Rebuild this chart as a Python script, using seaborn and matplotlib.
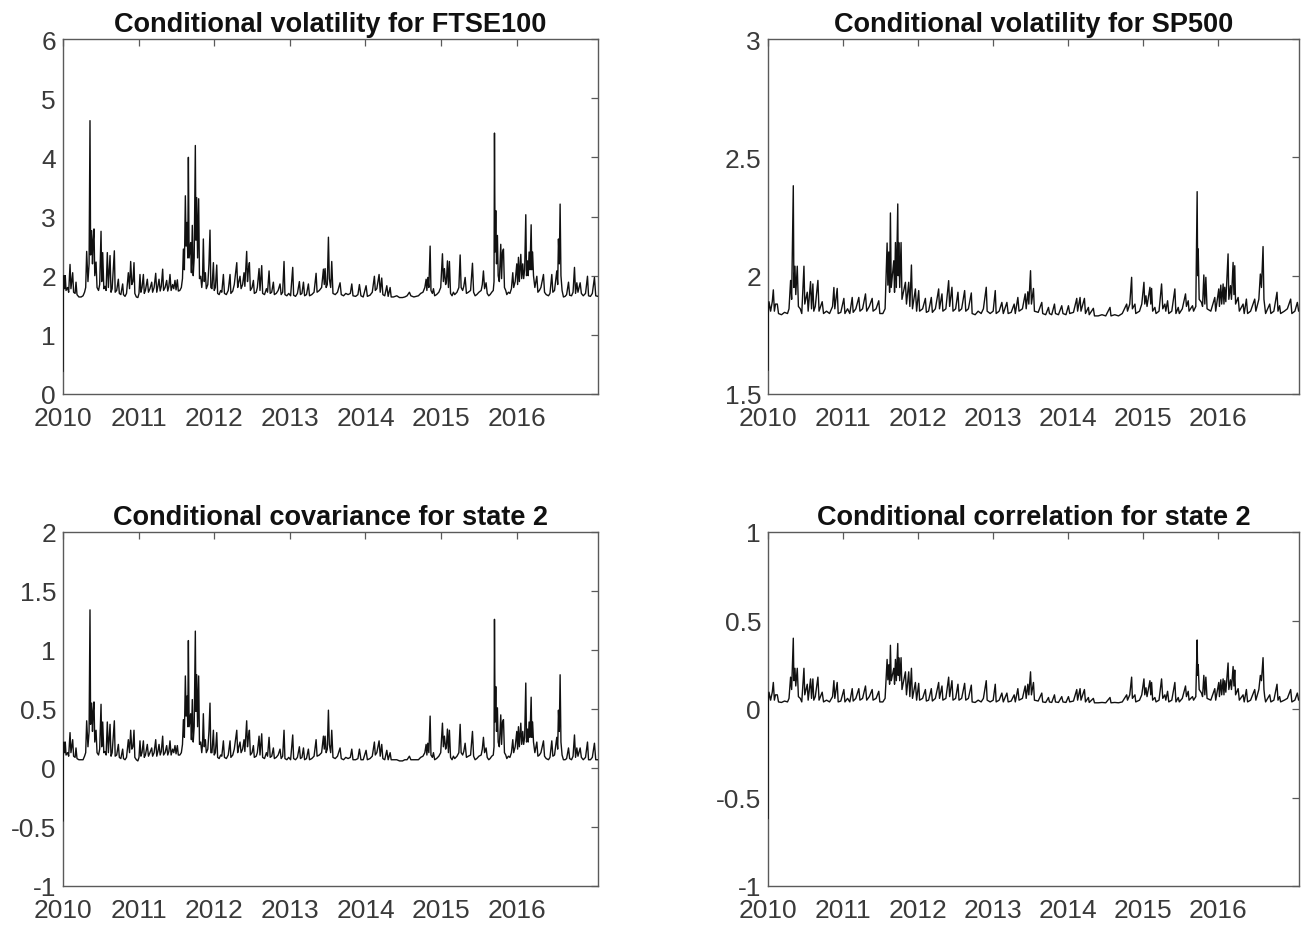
import numpy as np
import pandas as pd
import seaborn as sns
import matplotlib
matplotlib.use("Agg")
import matplotlib.pyplot as plt
from matplotlib.ticker import FuncFormatter, FixedLocator

# ---------------- data ----------------
# vertices of the UK-side series (FTSE100 volatility, state-2 covariance)
uk_dates = [
    2010.000, 2010.004, 2010.012, 2010.022, 2010.030, 2010.040, 2010.060, 2010.075, 2010.093, 2010.105,
    2010.128, 2010.140, 2010.160, 2010.172, 2010.185, 2010.210, 2010.240, 2010.265, 2010.285, 2010.300,
    2010.313, 2010.330, 2010.345, 2010.357, 2010.365, 2010.379, 2010.390, 2010.400, 2010.410, 2010.420,
    2010.437, 2010.450, 2010.470, 2010.485, 2010.503, 2010.512, 2010.525, 2010.540, 2010.555, 2010.570,
    2010.586, 2010.600, 2010.622, 2010.635, 2010.650, 2010.679, 2010.690, 2010.710, 2010.732, 2010.745,
    2010.765, 2010.789, 2010.800, 2010.820, 2010.840, 2010.864, 2010.880, 2010.895, 2010.910, 2010.925,
    2010.939, 2010.950, 2010.970, 2010.990, 2011.005, 2011.018, 2011.030, 2011.045, 2011.063, 2011.075,
    2011.090, 2011.115, 2011.130, 2011.150, 2011.173, 2011.185, 2011.205, 2011.226, 2011.240, 2011.255,
    2011.270, 2011.285, 2011.300, 2011.318, 2011.330, 2011.350, 2011.371, 2011.385, 2011.400, 2011.415,
    2011.430, 2011.450, 2011.465, 2011.481, 2011.495, 2011.512, 2011.525, 2011.545, 2011.565, 2011.580,
    2011.592, 2011.605, 2011.618, 2011.628, 2011.640, 2011.650, 2011.658, 2011.668, 2011.688, 2011.698,
    2011.710, 2011.722, 2011.735, 2011.750, 2011.758, 2011.768, 2011.780, 2011.794, 2011.805, 2011.821,
    2011.835, 2011.845, 2011.856, 2011.868, 2011.883, 2011.895, 2011.915, 2011.930, 2011.944, 2011.955,
    2011.970, 2011.989, 2012.000, 2012.015, 2012.033, 2012.045, 2012.065, 2012.085, 2012.100, 2012.121,
    2012.135, 2012.160, 2012.185, 2012.209, 2012.220, 2012.245, 2012.265, 2012.298, 2012.310, 2012.325,
    2012.341, 2012.355, 2012.375, 2012.394, 2012.405, 2012.429, 2012.440, 2012.452, 2012.465, 2012.478,
    2012.500, 2012.518, 2012.530, 2012.555, 2012.570, 2012.593, 2012.605, 2012.628, 2012.640, 2012.665,
    2012.690, 2012.705, 2012.725, 2012.740, 2012.760, 2012.782, 2012.795, 2012.820, 2012.845, 2012.870,
    2012.885, 2012.905, 2012.923, 2012.935, 2012.960, 2012.985, 2013.010, 2013.038, 2013.050, 2013.075,
    2013.100, 2013.126, 2013.140, 2013.160, 2013.180, 2013.195, 2013.220, 2013.245, 2013.260, 2013.290,
    2013.320, 2013.347, 2013.360, 2013.390, 2013.420, 2013.444, 2013.455, 2013.466, 2013.480, 2013.495,
    2013.510, 2013.522, 2013.540, 2013.554, 2013.570, 2013.600, 2013.630, 2013.664, 2013.680, 2013.710,
    2013.740, 2013.770, 2013.800, 2013.819, 2013.835, 2013.870, 2013.900, 2013.920, 2013.940, 2013.970,
    2014.008, 2014.025, 2014.060, 2014.090, 2014.118, 2014.130, 2014.150, 2014.180, 2014.195, 2014.215,
    2014.230, 2014.255, 2014.282, 2014.300, 2014.326, 2014.340, 2014.370, 2014.414, 2014.450, 2014.490,
    2014.520, 2014.550, 2014.581, 2014.600, 2014.640, 2014.670, 2014.700, 2014.730, 2014.760, 2014.785,
    2014.802, 2014.812, 2014.824, 2014.838, 2014.855, 2014.866, 2014.885, 2014.899, 2014.915, 2014.940,
    2014.970, 2014.995, 2015.018, 2015.030, 2015.044, 2015.060, 2015.070, 2015.084, 2015.097, 2015.110,
    2015.125, 2015.145, 2015.163, 2015.180, 2015.210, 2015.235, 2015.252, 2015.265, 2015.285, 2015.300,
    2015.318, 2015.335, 2015.360, 2015.390, 2015.415, 2015.430, 2015.450, 2015.472, 2015.500, 2015.530,
    2015.545, 2015.560, 2015.575, 2015.595, 2015.610, 2015.630, 2015.648, 2015.670, 2015.690, 2015.700,
    2015.706, 2015.714, 2015.723, 2015.733, 2015.745, 2015.755, 2015.770, 2015.789, 2015.800, 2015.812,
    2015.825, 2015.838, 2015.855, 2015.869, 2015.890, 2015.910, 2015.930, 2015.948, 2015.960, 2015.980,
    2016.001, 2016.012, 2016.023, 2016.035, 2016.054, 2016.066, 2016.080, 2016.092, 2016.105, 2016.120,
    2016.130, 2016.142, 2016.152, 2016.164, 2016.175, 2016.191, 2016.200, 2016.210, 2016.222, 2016.240,
    2016.266, 2016.280, 2016.300, 2016.320, 2016.354, 2016.368, 2016.390, 2016.420, 2016.440, 2016.464,
    2016.478, 2016.500, 2016.530, 2016.542, 2016.552, 2016.563, 2016.574, 2016.585, 2016.600, 2016.618,
    2016.640, 2016.660, 2016.685, 2016.700, 2016.725, 2016.745, 2016.764, 2016.778, 2016.795, 2016.810,
    2016.839, 2016.855, 2016.880, 2016.910, 2016.936, 2016.950, 2016.975, 2017.000, 2017.028, 2017.045,
    2017.075,
]

ftse_vol = [
    0.38, 1.72, 2.00, 1.78, 2.00, 1.75, 1.80, 1.72, 2.19, 1.78,
    2.05, 1.72, 1.70, 1.89, 1.68, 1.64, 1.64, 1.66, 1.72, 1.80,
    2.41, 1.90, 2.20, 4.62, 2.35, 2.76, 2.20, 2.60, 2.79, 2.00,
    2.23, 1.80, 1.75, 1.85, 2.75, 1.90, 2.39, 1.78, 1.82, 1.75,
    2.39, 1.80, 2.34, 1.72, 1.78, 2.42, 1.72, 1.75, 1.94, 1.70,
    1.68, 1.86, 1.68, 1.65, 1.70, 2.05, 1.78, 2.24, 1.85, 1.90,
    2.22, 1.70, 1.64, 1.63, 1.70, 2.02, 1.72, 1.80, 2.02, 1.70,
    1.75, 1.94, 1.72, 1.78, 1.89, 1.72, 1.80, 2.04, 1.72, 1.82,
    1.94, 1.74, 1.82, 2.11, 1.75, 1.80, 1.92, 1.74, 1.82, 2.02,
    1.75, 1.85, 1.78, 1.92, 1.76, 1.93, 1.74, 1.75, 1.80, 1.95,
    2.45, 2.10, 3.35, 2.50, 2.90, 2.30, 4.00, 2.30, 2.56, 2.05,
    2.85, 2.00, 2.30, 4.20, 2.60, 3.32, 2.30, 3.30, 1.95, 1.99,
    1.80, 1.95, 2.62, 1.90, 2.05, 1.78, 1.85, 2.20, 2.77, 1.80,
    1.78, 2.22, 1.75, 1.80, 2.18, 1.70, 1.68, 1.75, 1.72, 2.02,
    1.70, 1.68, 1.75, 2.02, 1.70, 1.74, 1.85, 2.22, 1.80, 1.90,
    1.99, 1.78, 1.85, 2.05, 1.82, 2.41, 1.90, 2.10, 2.22, 1.75,
    1.80, 1.92, 1.70, 1.72, 1.80, 2.12, 1.75, 2.17, 1.70, 1.68,
    1.78, 1.72, 2.08, 1.70, 1.72, 1.89, 1.68, 1.70, 1.75, 1.86,
    1.68, 1.72, 2.24, 1.68, 1.66, 1.70, 1.66, 2.14, 1.67, 1.65,
    1.70, 1.90, 1.68, 1.70, 1.89, 1.66, 1.68, 1.86, 1.66, 1.68,
    1.72, 2.04, 1.72, 1.75, 1.80, 2.11, 1.85, 2.12, 1.80, 1.85,
    2.65, 1.95, 1.80, 2.24, 1.70, 1.68, 1.72, 1.88, 1.68, 1.66,
    1.70, 1.68, 1.70, 1.86, 1.66, 1.65, 1.68, 1.85, 1.66, 1.64,
    1.83, 1.65, 1.67, 1.72, 1.99, 1.75, 1.78, 2.02, 1.72, 1.96,
    1.68, 1.66, 1.83, 1.65, 1.80, 1.64, 1.64, 1.66, 1.63, 1.63,
    1.64, 1.66, 1.72, 1.66, 1.64, 1.65, 1.66, 1.70, 1.72, 1.80,
    1.94, 1.75, 1.97, 1.80, 2.50, 1.75, 1.70, 1.78, 1.66, 1.68,
    1.72, 1.80, 2.37, 1.90, 2.12, 1.85, 1.90, 2.25, 1.80, 2.24,
    1.70, 1.66, 1.72, 1.68, 1.72, 1.80, 2.35, 1.80, 1.75, 1.82,
    1.97, 1.70, 1.72, 1.75, 2.21, 1.72, 1.66, 1.68, 1.72, 1.75,
    1.85, 2.08, 1.78, 1.88, 1.70, 1.66, 1.68, 1.72, 1.75, 1.90,
    4.41, 2.40, 3.10, 2.20, 2.68, 2.00, 1.90, 2.53, 1.95, 2.40,
    2.45, 1.80, 1.75, 1.68, 1.72, 1.70, 1.78, 2.05, 1.80, 1.90,
    2.20, 1.85, 2.31, 1.90, 2.36, 1.95, 2.20, 1.95, 2.10, 3.03,
    2.00, 2.25, 2.00, 2.40, 2.10, 2.86, 2.10, 2.40, 2.00, 1.80,
    1.99, 1.72, 1.75, 1.80, 2.02, 1.72, 1.68, 1.66, 1.70, 2.02,
    1.72, 1.75, 2.08, 1.85, 2.62, 2.20, 3.21, 2.00, 1.75, 1.64,
    1.65, 1.68, 1.89, 1.67, 1.66, 1.72, 2.14, 1.70, 1.88, 1.72,
    1.88, 1.70, 1.66, 1.70, 1.99, 1.66, 1.65, 1.70, 1.97, 1.66,
    1.65,
]

cov_state2 = [
    -0.45, 0.10, 0.22, 0.13, 0.22, 0.11, 0.13, 0.10, 0.30, 0.13,
    0.24, 0.10, 0.09, 0.17, 0.08, 0.07, 0.07, 0.07, 0.10, 0.13,
    0.40, 0.18, 0.31, 1.34, 0.37, 0.55, 0.31, 0.48, 0.56, 0.22,
    0.32, 0.13, 0.11, 0.16, 0.54, 0.18, 0.39, 0.13, 0.14, 0.11,
    0.39, 0.13, 0.37, 0.10, 0.13, 0.40, 0.10, 0.11, 0.20, 0.09,
    0.08, 0.16, 0.08, 0.07, 0.09, 0.24, 0.13, 0.32, 0.16, 0.18,
    0.32, 0.09, 0.07, 0.06, 0.09, 0.23, 0.10, 0.13, 0.23, 0.09,
    0.11, 0.20, 0.10, 0.13, 0.17, 0.10, 0.13, 0.24, 0.10, 0.14,
    0.20, 0.11, 0.14, 0.27, 0.11, 0.13, 0.19, 0.11, 0.14, 0.23,
    0.11, 0.16, 0.13, 0.19, 0.12, 0.19, 0.11, 0.11, 0.13, 0.20,
    0.41, 0.26, 0.78, 0.44, 0.61, 0.35, 1.08, 0.35, 0.46, 0.24,
    0.58, 0.22, 0.35, 1.16, 0.48, 0.79, 0.35, 0.78, 0.20, 0.22,
    0.13, 0.20, 0.46, 0.18, 0.24, 0.13, 0.16, 0.31, 0.55, 0.13,
    0.13, 0.32, 0.11, 0.13, 0.30, 0.09, 0.08, 0.11, 0.10, 0.23,
    0.09, 0.08, 0.11, 0.23, 0.09, 0.11, 0.16, 0.32, 0.13, 0.18,
    0.22, 0.13, 0.16, 0.24, 0.14, 0.40, 0.18, 0.26, 0.32, 0.11,
    0.13, 0.19, 0.09, 0.10, 0.13, 0.27, 0.11, 0.29, 0.09, 0.08,
    0.13, 0.10, 0.26, 0.09, 0.10, 0.17, 0.08, 0.09, 0.11, 0.16,
    0.08, 0.10, 0.32, 0.08, 0.07, 0.09, 0.07, 0.28, 0.08, 0.07,
    0.09, 0.18, 0.08, 0.09, 0.17, 0.07, 0.08, 0.16, 0.07, 0.08,
    0.10, 0.24, 0.10, 0.11, 0.13, 0.27, 0.16, 0.27, 0.13, 0.16,
    0.49, 0.20, 0.13, 0.32, 0.09, 0.08, 0.10, 0.17, 0.08, 0.07,
    0.09, 0.08, 0.09, 0.16, 0.07, 0.07, 0.08, 0.16, 0.07, 0.07,
    0.15, 0.07, 0.08, 0.10, 0.22, 0.11, 0.13, 0.23, 0.10, 0.20,
    0.08, 0.07, 0.15, 0.07, 0.13, 0.07, 0.07, 0.07, 0.06, 0.06,
    0.07, 0.07, 0.10, 0.07, 0.07, 0.07, 0.07, 0.09, 0.10, 0.13,
    0.20, 0.11, 0.21, 0.13, 0.44, 0.11, 0.09, 0.13, 0.07, 0.08,
    0.10, 0.13, 0.38, 0.18, 0.27, 0.16, 0.18, 0.33, 0.13, 0.32,
    0.09, 0.07, 0.10, 0.08, 0.10, 0.13, 0.37, 0.13, 0.11, 0.14,
    0.21, 0.09, 0.10, 0.11, 0.31, 0.10, 0.07, 0.08, 0.10, 0.11,
    0.16, 0.26, 0.13, 0.17, 0.09, 0.07, 0.08, 0.10, 0.11, 0.18,
    1.26, 0.39, 0.69, 0.31, 0.51, 0.22, 0.18, 0.45, 0.20, 0.39,
    0.41, 0.13, 0.11, 0.08, 0.10, 0.09, 0.13, 0.24, 0.13, 0.18,
    0.31, 0.16, 0.35, 0.18, 0.38, 0.20, 0.31, 0.20, 0.26, 0.72,
    0.22, 0.33, 0.22, 0.39, 0.26, 0.60, 0.26, 0.39, 0.22, 0.13,
    0.22, 0.10, 0.11, 0.13, 0.23, 0.10, 0.08, 0.07, 0.09, 0.23,
    0.10, 0.11, 0.26, 0.16, 0.49, 0.31, 0.79, 0.22, 0.11, 0.07,
    0.07, 0.08, 0.17, 0.08, 0.07, 0.10, 0.28, 0.09, 0.17, 0.10,
    0.17, 0.09, 0.07, 0.09, 0.22, 0.07, 0.07, 0.09, 0.21, 0.07,
    0.07,
]

# vertices of the US-side series (SP500 volatility, state-2 correlation)
us_dates = [
    2010.000, 2010.004, 2010.013, 2010.035, 2010.057, 2010.071, 2010.085, 2010.100, 2010.124, 2010.140,
    2010.180, 2010.220, 2010.260, 2010.280, 2010.301, 2010.315, 2010.337, 2010.345, 2010.359, 2010.370,
    2010.390, 2010.405, 2010.430, 2010.450, 2010.479, 2010.490, 2010.523, 2010.535, 2010.567, 2010.580,
    2010.598, 2010.610, 2010.630, 2010.665, 2010.680, 2010.722, 2010.740, 2010.780, 2010.820, 2010.860,
    2010.878, 2010.890, 2010.922, 2010.935, 2010.970, 2011.011, 2011.025, 2011.060, 2011.090, 2011.122,
    2011.135, 2011.170, 2011.210, 2011.225, 2011.260, 2011.299, 2011.315, 2011.350, 2011.388, 2011.400,
    2011.440, 2011.476, 2011.490, 2011.530, 2011.560, 2011.587, 2011.597, 2011.609, 2011.620, 2011.631,
    2011.642, 2011.676, 2011.686, 2011.698, 2011.710, 2011.729, 2011.735, 2011.742, 2011.755, 2011.773,
    2011.785, 2011.831, 2011.845, 2011.875, 2011.890, 2011.911, 2011.925, 2011.964, 2011.980, 2012.008,
    2012.020, 2012.060, 2012.097, 2012.110, 2012.140, 2012.176, 2012.190, 2012.230, 2012.274, 2012.285,
    2012.318, 2012.330, 2012.370, 2012.407, 2012.420, 2012.451, 2012.465, 2012.500, 2012.531, 2012.545,
    2012.580, 2012.620, 2012.635, 2012.670, 2012.709, 2012.720, 2012.760, 2012.800, 2012.840, 2012.870,
    2012.908, 2012.920, 2012.960, 2013.000, 2013.028, 2013.040, 2013.080, 2013.116, 2013.135, 2013.183,
    2013.200, 2013.240, 2013.280, 2013.295, 2013.329, 2013.345, 2013.390, 2013.427, 2013.440, 2013.462,
    2013.475, 2013.498, 2013.510, 2013.537, 2013.550, 2013.600, 2013.648, 2013.660, 2013.700, 2013.737,
    2013.750, 2013.780, 2013.817, 2013.830, 2013.870, 2013.914, 2013.930, 2013.970, 2014.003, 2014.020,
    2014.070, 2014.114, 2014.125, 2014.158, 2014.170, 2014.216, 2014.230, 2014.269, 2014.280, 2014.335,
    2014.350, 2014.400, 2014.450, 2014.500, 2014.557, 2014.570, 2014.620, 2014.670, 2014.720, 2014.779,
    2014.790, 2014.820, 2014.845, 2014.855, 2014.889, 2014.900, 2014.950, 2014.980, 2015.009, 2015.020,
    2015.036, 2015.050, 2015.089, 2015.100, 2015.111, 2015.125, 2015.155, 2015.170, 2015.210, 2015.244,
    2015.260, 2015.288, 2015.300, 2015.324, 2015.340, 2015.380, 2015.421, 2015.435, 2015.466, 2015.480,
    2015.520, 2015.563, 2015.575, 2015.599, 2015.610, 2015.656, 2015.670, 2015.700, 2015.718, 2015.725,
    2015.732, 2015.745, 2015.776, 2015.790, 2015.807, 2015.820, 2015.834, 2015.850, 2015.900, 2015.953,
    2015.965, 2016.006, 2016.015, 2016.033, 2016.045, 2016.064, 2016.075, 2016.086, 2016.100, 2016.130,
    2016.140, 2016.162, 2016.175, 2016.197, 2016.208, 2016.219, 2016.230, 2016.264, 2016.280, 2016.330,
    2016.345, 2016.374, 2016.390, 2016.430, 2016.485, 2016.500, 2016.540, 2016.560, 2016.575, 2016.596,
    2016.608, 2016.618, 2016.630, 2016.685, 2016.700, 2016.740, 2016.782, 2016.795, 2016.817, 2016.830,
    2016.880, 2016.920, 2016.964, 2016.980, 2017.020, 2017.053, 2017.070,
]

sp500_vol = [
    1.60, 1.84, 1.89, 1.85, 1.89, 1.94, 1.85, 1.88, 1.88, 1.84,
    1.835, 1.845, 1.84, 1.86, 1.98, 1.90, 2.38, 1.95, 2.04, 1.92,
    2.04, 1.87, 1.86, 1.84, 2.04, 1.88, 1.93, 1.85, 1.975, 1.86,
    1.965, 1.85, 1.87, 1.98, 1.85, 1.89, 1.84, 1.85, 1.84, 1.87,
    1.95, 1.86, 1.946, 1.84, 1.845, 1.904, 1.84, 1.86, 1.84, 1.908,
    1.845, 1.86, 1.908, 1.85, 1.86, 1.923, 1.85, 1.87, 1.904, 1.85,
    1.86, 1.894, 1.84, 1.84, 1.86, 2.138, 1.96, 2.10, 1.93, 2.265,
    1.95, 2.063, 1.93, 2.14, 1.95, 2.303, 2.00, 2.14, 1.95, 2.14,
    1.90, 1.972, 1.88, 1.972, 1.87, 2.045, 1.86, 1.944, 1.85, 1.937,
    1.85, 1.86, 1.904, 1.845, 1.85, 1.908, 1.845, 1.86, 1.944, 1.86,
    1.923, 1.85, 1.86, 1.979, 1.87, 1.951, 1.85, 1.86, 1.930, 1.85,
    1.86, 1.937, 1.85, 1.86, 1.927, 1.84, 1.835, 1.85, 1.84, 1.86,
    1.951, 1.85, 1.84, 1.85, 1.937, 1.84, 1.85, 1.887, 1.84, 1.887,
    1.84, 1.845, 1.880, 1.84, 1.908, 1.85, 1.86, 1.923, 1.86, 1.932,
    1.88, 2.021, 1.88, 1.946, 1.85, 1.845, 1.887, 1.84, 1.835, 1.866,
    1.84, 1.835, 1.880, 1.84, 1.835, 1.873, 1.84, 1.835, 1.873, 1.84,
    1.845, 1.904, 1.85, 1.908, 1.85, 1.904, 1.84, 1.866, 1.835, 1.862,
    1.83, 1.83, 1.835, 1.83, 1.866, 1.83, 1.835, 1.83, 1.84, 1.880,
    1.85, 1.88, 1.993, 1.86, 1.880, 1.84, 1.85, 1.88, 1.972, 1.88,
    1.915, 1.87, 1.951, 1.88, 1.946, 1.85, 1.866, 1.84, 1.85, 1.965,
    1.86, 1.880, 1.85, 1.894, 1.84, 1.85, 1.944, 1.84, 1.866, 1.84,
    1.86, 1.923, 1.87, 1.894, 1.85, 1.873, 1.85, 1.87, 2.355, 2.00,
    2.113, 1.90, 1.887, 1.87, 2.003, 1.88, 1.993, 1.86, 1.85, 1.908,
    1.85, 1.944, 1.87, 1.960, 1.88, 1.965, 1.88, 1.951, 1.89, 2.092,
    1.90, 1.958, 1.90, 2.056, 1.92, 2.042, 1.88, 1.908, 1.85, 1.880,
    1.84, 1.901, 1.84, 1.85, 1.901, 1.85, 1.90, 2.007, 1.95, 2.123,
    1.90, 1.873, 1.84, 1.880, 1.84, 1.85, 1.930, 1.85, 1.873, 1.84,
    1.85, 1.86, 1.901, 1.84, 1.85, 1.887, 1.85,
]

corr_state2 = [
    -0.62, 0.04, 0.095, 0.05, 0.095, 0.15, 0.05, 0.08, 0.08, 0.04,
    0.037, 0.045, 0.04, 0.06, 0.18, 0.11, 0.40, 0.16, 0.23, 0.13,
    0.23, 0.07, 0.06, 0.04, 0.23, 0.08, 0.14, 0.05, 0.17, 0.06,
    0.17, 0.05, 0.07, 0.18, 0.05, 0.095, 0.04, 0.05, 0.04, 0.07,
    0.16, 0.06, 0.15, 0.04, 0.045, 0.11, 0.04, 0.06, 0.04, 0.115,
    0.045, 0.06, 0.115, 0.05, 0.06, 0.13, 0.05, 0.07, 0.11, 0.05,
    0.06, 0.10, 0.04, 0.04, 0.06, 0.28, 0.165, 0.25, 0.14, 0.36,
    0.16, 0.23, 0.14, 0.28, 0.16, 0.37, 0.19, 0.29, 0.16, 0.29,
    0.11, 0.21, 0.08, 0.21, 0.07, 0.23, 0.06, 0.15, 0.05, 0.145,
    0.05, 0.06, 0.11, 0.045, 0.05, 0.115, 0.045, 0.06, 0.15, 0.06,
    0.13, 0.05, 0.06, 0.18, 0.07, 0.16, 0.05, 0.06, 0.14, 0.05,
    0.06, 0.145, 0.05, 0.06, 0.135, 0.04, 0.037, 0.05, 0.04, 0.06,
    0.16, 0.05, 0.04, 0.05, 0.14, 0.04, 0.05, 0.09, 0.04, 0.09,
    0.04, 0.045, 0.08, 0.04, 0.115, 0.05, 0.06, 0.13, 0.06, 0.14,
    0.08, 0.21, 0.08, 0.15, 0.05, 0.045, 0.09, 0.04, 0.037, 0.065,
    0.04, 0.037, 0.08, 0.04, 0.037, 0.07, 0.04, 0.037, 0.07, 0.04,
    0.045, 0.11, 0.05, 0.115, 0.05, 0.11, 0.04, 0.065, 0.037, 0.06,
    0.035, 0.035, 0.037, 0.035, 0.065, 0.035, 0.037, 0.035, 0.04, 0.08,
    0.05, 0.08, 0.18, 0.06, 0.08, 0.04, 0.05, 0.08, 0.17, 0.08,
    0.12, 0.07, 0.16, 0.08, 0.15, 0.05, 0.065, 0.04, 0.05, 0.17,
    0.06, 0.08, 0.05, 0.10, 0.04, 0.05, 0.15, 0.04, 0.065, 0.04,
    0.06, 0.13, 0.07, 0.10, 0.05, 0.07, 0.05, 0.07, 0.39, 0.19,
    0.25, 0.11, 0.09, 0.07, 0.19, 0.08, 0.18, 0.06, 0.05, 0.115,
    0.05, 0.15, 0.07, 0.165, 0.08, 0.17, 0.08, 0.16, 0.095, 0.26,
    0.11, 0.165, 0.11, 0.24, 0.13, 0.22, 0.08, 0.115, 0.05, 0.08,
    0.04, 0.11, 0.04, 0.05, 0.11, 0.05, 0.11, 0.19, 0.16, 0.29,
    0.11, 0.07, 0.04, 0.08, 0.04, 0.05, 0.14, 0.05, 0.07, 0.04,
    0.05, 0.06, 0.11, 0.04, 0.05, 0.09, 0.05,
]

year_ticks = [2010, 2011, 2012, 2013, 2014, 2015, 2016]
year_labels = ["2010", "2011", "2012", "2013", "2014", "2015", "2016"]

titles = [
    "Conditional volatility for FTSE100",
    "Conditional volatility for SP500",
    "Conditional covariance for state 2",
    "Conditional correlation for state 2",
]
ftse_yticks = [0, 1, 2, 3, 4, 5, 6]
sp500_yticks = [1.5, 2, 2.5, 3]
cov_yticks = [-1, -0.5, 0, 0.5, 1, 1.5, 2]
corr_yticks = [-1, -0.5, 0, 0.5, 1]

# ---------------- styling ----------------
sns.set_theme(style="white")
plt.rcParams["font.family"] = ["Liberation Sans Narrow", "Liberation Sans", "DejaVu Sans"]
plt.rcParams["axes.unicode_minus"] = False

W, H = 1306, 929
fig = plt.figure(figsize=(W / 100, H / 100), dpi=100)
fig.patch.set_facecolor("white")

def box(l, r, t, b):
    return [l / W, (H - b) / H, (r - l) / W, (b - t) / H]

axes = [
    fig.add_axes(box(63, 598, 40, 395)),
    fig.add_axes(box(768, 1299, 40, 395)),
    fig.add_axes(box(63, 598, 533, 887)),
    fig.add_axes(box(768, 1299, 533, 887)),
]

series = [
    (uk_dates, ftse_vol, ftse_yticks),
    (us_dates, sp500_vol, sp500_yticks),
    (uk_dates, cov_state2, cov_yticks),
    (us_dates, corr_state2, corr_yticks),
]

fmt = FuncFormatter(lambda v, p: ("%g" % v))
spine_col = "#5a5a5a"
label_col = "#3a3a3a"

for ax, (xs, ys, yt), title in zip(axes, series, titles):
    df = pd.DataFrame({"date": xs, "value": ys})
    sns.lineplot(data=df, x="date", y="value", ax=ax, color="#111111",
                 linewidth=1.0, estimator=None, sort=False, zorder=3)
    ax.set_xlim(2010.0, 2017.075)
    ax.set_ylim(yt[0], yt[-1])
    ax.xaxis.set_major_locator(FixedLocator(year_ticks))
    ax.set_xticklabels(year_labels)
    ax.yaxis.set_major_locator(FixedLocator(yt))
    ax.yaxis.set_major_formatter(fmt)
    ax.set_xlabel("")
    ax.set_ylabel("")
    ax.set_title(title, fontsize=19.5, fontweight="bold", color="#111111",
                 family=["Liberation Sans", "DejaVu Sans"], pad=6)
    for s in ax.spines.values():
        s.set_visible(True)
        s.set_color(spine_col)
        s.set_linewidth(1.0)
    ax.tick_params(axis="both", which="major", direction="in", length=5,
                   width=0.9, color=spine_col, labelcolor=label_col,
                   labelsize=19, top=True, right=True)
    ax.tick_params(axis="x", pad=9)
    ax.tick_params(axis="y", pad=5)
    ax.grid(False)
    ax.set_facecolor("white")

fig.savefig("out.png", dpi=100, facecolor="white")
